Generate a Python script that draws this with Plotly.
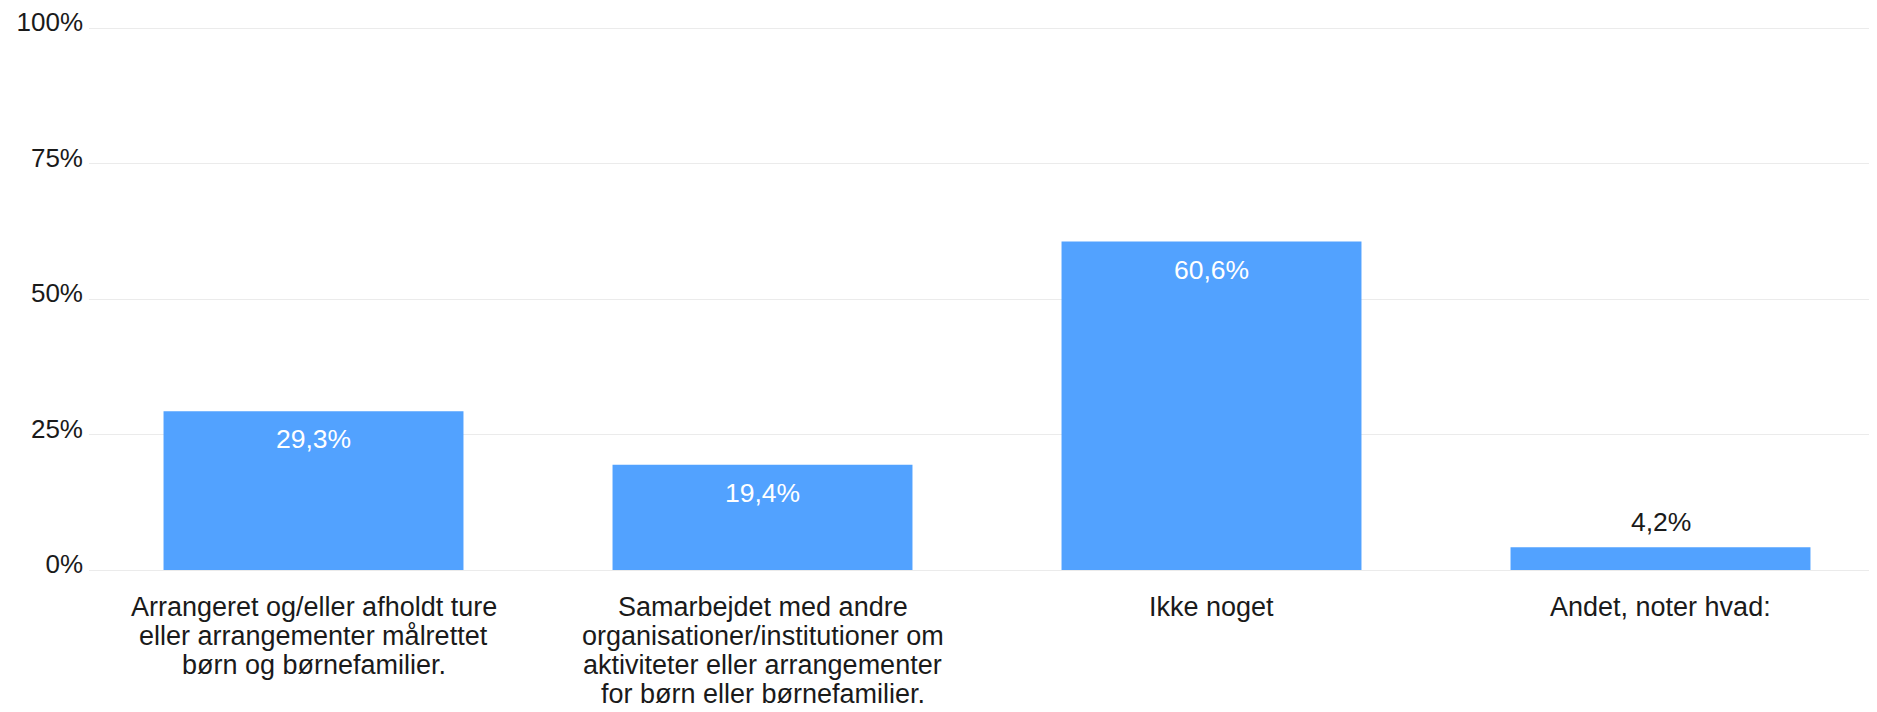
import plotly.graph_objects as go

# survey answers (share of respondents, %)
categories = ["Arrangeret", "Samarbejdet", "Ikke noget", "Andet"]
tick_labels = [
    "Arrangeret og/eller afholdt ture\neller arrangementer målrettet\nbørn og børnefamilier.",
    "Samarbejdet med andre\norganisationer/institutioner om\naktiviteter eller arrangementer\nfor børn eller børnefamilier.",
    "Ikke noget",
    "Andet, noter hvad:",
]
values = [29.3, 19.4, 60.6, 4.2]
label_inside = [True, True, True, False]
y_ticks = [0, 25, 50, 75, 100]

FONT = "Liberation Sans, Arial, sans-serif"
TEXT = "#1a1a1a"

trace = go.Bar(
    x=categories,
    y=values,
    marker=dict(color="#52a2ff", line=dict(width=0)),
    hoverinfo="skip",
)

annotations = []
# value labels (comma decimals)
for cat, v, inside in zip(categories, values, label_inside):
    annotations.append(dict(
        x=cat, y=v, xref="x", yref="y",
        text=f"{v:.1f}".replace(".", ",") + "%",
        showarrow=False, yanchor="middle",
        yshift=-28 if inside else 25,
        font=dict(family=FONT, size=26.5, color="white" if inside else TEXT),
    ))

# category labels, one line each to keep the tight line spacing
for cat, lab in zip(categories, tick_labels):
    for i, line in enumerate(lab.split("\n")):
        annotations.append(dict(
            x=cat, y=0, xref="x", yref="y",
            text=line, showarrow=False, yanchor="middle",
            yshift=-37 - 29 * i,
            font=dict(family=FONT, size=27, color=TEXT),
        ))

layout = go.Layout(
    width=1877, height=712,
    margin=dict(l=81, r=0, t=19, b=150),
    plot_bgcolor="white",
    paper_bgcolor="white",
    showlegend=False,
    bargap=0.332,
    font=dict(family=FONT, size=26, color=TEXT),
    annotations=annotations,
    xaxis=dict(
        showticklabels=False,
        showgrid=False,
        showline=False,
        zeroline=False,
        ticks="",
    ),
    yaxis=dict(
        range=[0, 100.2],
        tickmode="array",
        tickvals=y_ticks,
        ticktext=[f"{t}%" for t in y_ticks],
        showgrid=True,
        gridcolor="#ebebeb",
        gridwidth=1,
        zeroline=True,
        zerolinecolor="#ebebeb",
        zerolinewidth=1,
        showline=False,
        ticks="",
        ticklabelstandoff=5,
        ticklabelshift=-6,
        ticklabeloverflow="allow",
        tickfont=dict(family=FONT, size=26, color=TEXT),
    ),
)

fig = go.Figure(data=[trace], layout=layout)
fig.write_html("out.html")
